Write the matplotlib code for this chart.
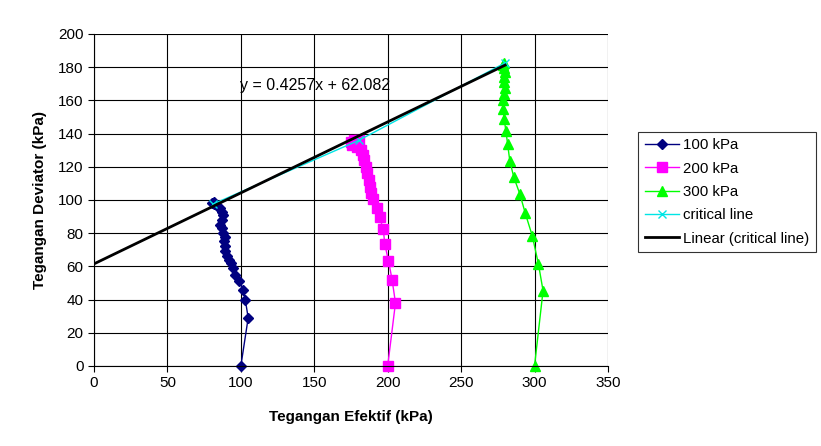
import numpy as np
import matplotlib
matplotlib.use("Agg")
import matplotlib.pyplot as plt

plt.rcParams['font.family'] = ['Liberation Sans', 'DejaVu Sans']

# data (x = effective stress, y = deviator stress, kPa)
x_100 = [100, 105, 103, 101.5, 99, 96, 94.5, 93, 92, 90.5, 89.5, 89, 88.5, 89, 88,
         87.5, 86, 87.5, 88, 87, 85.5, 84, 82, 80.5, 81.5]
y_100 = [0, 29, 40, 46, 51, 55, 59, 62, 64, 66, 69, 72, 75, 78, 80,
         83, 85, 88, 91, 93, 95, 96.5, 97.5, 98, 99]

x_200 = [200, 205.3, 203, 200.5, 198, 197, 194.5, 193, 190, 188.5, 188, 187, 186,
         185, 184, 183, 182, 179, 176, 175, 177, 180.5]
y_200 = [0, 38, 52, 63.5, 73.5, 82.5, 89.5, 95, 100.5, 104, 108, 112, 116,
         120, 124, 127, 130, 132, 133, 135, 136, 136]

x_300 = [300, 305.8, 302.7, 298.5, 293.7, 290, 285.9, 283.2, 281.7, 280.5, 279.3,
         278.8, 278.8, 279.3, 279.6, 279.1, 279.3, 279.8, 279.3, 278.8, 279.5]
y_300 = [0, 45.4, 61.2, 78.3, 92, 103.6, 113.7, 123.3, 133.5, 141.6, 148.8,
         154.6, 160, 163.9, 167.7, 171.3, 174.3, 177, 179.3, 181.3, 182.7]

x_crit = [81, 180.5, 280]
y_crit = [97.5, 136, 182.6]
eq_text = "y = 0.4257x + 62.082"

fig = plt.figure(figsize=(8.21, 4.46), dpi=100)
ax = fig.add_axes([0.1145, 0.1794, 0.626, 0.7444])

ax.plot(x_100, y_100, color='#000080', marker='D', markersize=5.5, lw=1,
        clip_on=False, label='100 kPa')
ax.plot(x_200, y_200, color='#FF00FF', marker='s', markersize=6.5, lw=1,
        clip_on=False, label='200 kPa')
ax.plot(x_300, y_300, color='#00FF00', marker='^', markersize=7, lw=1,
        clip_on=False, label='300 kPa')
ax.plot(x_crit, y_crit, color='#00E5E5', marker='x', markersize=6, lw=1,
        label='critical line')

# linear trend line of the critical points, extended back to x = 0
slope, icpt = np.polyfit(x_crit, y_crit, 1)
xt = np.array([0, max(x_crit)])
ax.plot(xt, slope * xt + icpt, color='black', lw=2, label='Linear (critical line)')

ax.text(99.5, 169, eq_text, fontsize=11.5, va='center', ha='left')

ax.set_xlim(0, 350)
ax.set_ylim(0, 200)
ax.set_xticks(np.arange(0, 351, 50))
ax.set_yticks(np.arange(0, 201, 20))
ax.grid(True, color='black', lw=0.8)
ax.set_axisbelow(True)
for s in ['top', 'right']:
    ax.spines[s].set_visible(False)
ax.tick_params(labelsize=11, length=4, direction='out')
ax.set_xlabel('Tegangan Efektif (kPa)', fontsize=11, fontweight='bold', labelpad=14)
ax.set_ylabel('Tegangan Deviator (kPa)', fontsize=11, fontweight='bold', labelpad=8)

leg = fig.legend(loc='upper left', bbox_to_anchor=(0.777, 0.705), fontsize=10.8,
                 frameon=True, fancybox=False, edgecolor='black', borderpad=0.45,
                 borderaxespad=0, handlelength=2.3, handletextpad=0.25,
                 labelspacing=0.62)
leg.get_frame().set_linewidth(0.8)

fig.savefig('out.png', dpi=100)
